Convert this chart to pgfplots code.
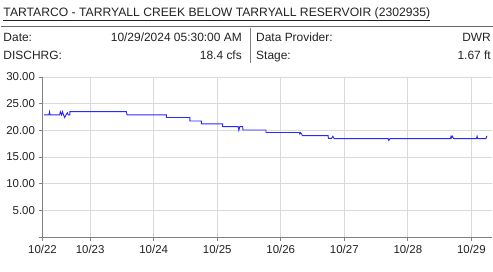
\documentclass[border=0pt]{standalone}
\usepackage{pgfplots}
\pgfplotsset{compat=1.18}
\usepackage{fontspec}
\setmainfont{Liberation Sans}
\definecolor{gridc}{RGB}{217,217,217}
\definecolor{axc}{RGB}{128,128,128}
\definecolor{linec}{RGB}{40,40,255}
\definecolor{txt}{RGB}{34,34,34}
\begin{document}
\begin{tikzpicture}[x=1bp,y=1bp]
\useasboundingbox (0,0) rectangle (493,271);
\begin{scope}[font=\fontsize{12}{14}\selectfont, text=txt]
\node[anchor=base west, inner sep=0, font=\fontsize{12.2}{14}\selectfont] (t) at (3.3,255) {\underline{TARTARCO - TARRYALL CREEK BELOW TARRYALL RESERVOIR (2302935)}};
\draw[axc!80!black, line width=0.6bp] (1,245) -- (493,245);
\draw[axc, line width=0.6bp] (250,243) -- (250,208);
\node[anchor=base west, inner sep=0] at (3.3,230) {Date:};
\node[anchor=base east, inner sep=0] at (242,230) {10/29/2024 05:30:00 AM};
\node[anchor=base west, inner sep=0] at (256,230) {Data Provider:};
\node[anchor=base east, inner sep=0] at (491,230) {DWR};
\node[anchor=base west, inner sep=0] at (3.3,211.7) {DISCHRG:};
\node[anchor=base east, inner sep=0] at (242,211.7) {18.4 cfs};
\node[anchor=base west, inner sep=0] at (256,211.7) {Stage:};
\node[anchor=base east, inner sep=0] at (491,211.7) {1.67 ft};
\end{scope}
\begin{axis}[
  at={(42.5bp,34bp)}, anchor=origin,
  scale only axis, width=449.2bp, height=160bp,
  xmin=0.25, xmax=7.32, ymin=0, ymax=30,
  axis x line=bottom, axis y line=left,
  axis line style={-, axc, line width=0.8bp},
  xtick={0.25,1,2,3,4,5,6,7},
  xticklabels={10/22,10/23,10/24,10/25,10/26,10/27,10/28,10/29},
  ytick={0,5,10,15,20,25,30},
  yticklabels={,5.00,10.00,15.00,20.00,25.00,30.00},
  tick align=outside, major tick length=4bp,
  tick style={axc, line width=0.8bp},
  grid=major, grid style={gridc, line width=0.8bp},
  ticklabel style={font=\fontsize{11.5}{13}\selectfont, text=txt},
  /pgf/number format/assume math mode=true,
  xticklabel style={yshift=-1bp},
  clip=false,
]
\addplot[linec, line width=0.9bp] coordinates {
(0.276,22.9)(0.35,22.9)(0.36,23.5)(0.37,22.9)
(0.52,22.9)(0.53,23.5)(0.55,22.9)(0.565,23.5)(0.58,22.9)(0.60,22.4)(0.62,22.9)(0.64,23.3)(0.655,22.9)(0.68,22.9)(0.68,23.5)
(1.57,23.5)(1.575,23.2)(1.58,22.9)
(2.20,22.9)(2.20,22.4)
(2.57,22.4)(2.57,21.75)
(2.75,21.75)(2.75,21.2)
(3.085,21.2)(3.085,20.7)
(3.33,20.7)(3.34,20.0)(3.355,20.7)(3.40,20.7)(3.405,20.06)
(3.767,20.06)(3.767,19.6)
(4.29,19.6)(4.30,19.3)(4.31,19.6)(4.33,19.3)(4.34,19.0)
(4.745,19.0)(4.75,18.5)(4.80,18.5)(4.82,18.9)(4.84,18.45)
(5.69,18.45)(5.70,18.1)(5.72,18.45)
(6.67,18.45)(6.68,18.9)(6.69,18.6)(6.70,18.9)(6.72,18.45)
(7.08,18.45)(7.09,18.9)(7.10,18.45)
(7.23,18.45)(7.24,18.9)(7.25,18.9)
};
\end{axis}
\end{tikzpicture}
\end{document}
